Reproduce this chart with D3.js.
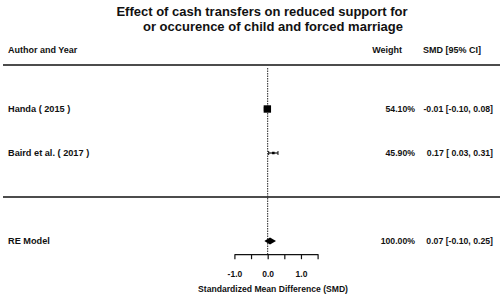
<!DOCTYPE html>
<html>
<head>
<meta charset="utf-8">
<script src="https://cdn.jsdelivr.net/npm/d3@7"></script>
<style>
  body { margin: 0; background: #fff; }
  text { font-family: "Liberation Sans", Arial, sans-serif; fill: #111; }
</style>
</head>
<body>
<svg width="502" height="301"></svg>
<script>
// study data
const studies = ["Handa ( 2015 )", "Baird et al. ( 2017 )"];
const smd = [-0.01, 0.17];
const lower = [-0.10, 0.03];
const upper = [0.08, 0.31];
const weights = [54.10, 45.90];

// pooled (random effects) result
const pooledLabel = "RE Model";
const pooled = [0.07, -0.10, 0.25];  // estimate, lower, upper
const pooledWeight = 100.00;

// axis
const tickValues = [-1.0, -0.5, 0.0, 0.5, 1.0, 1.5];
const labelledTicks = [-1.0, 0.0, 1.0];

const titleLines = ["Effect of cash transfers on reduced support for",
                    "or occurence of child and forced marriage"];

const svg = d3.select("svg"),
    width = +svg.attr("width"),
    height = +svg.attr("height");

// x scale in SMD units, y scale in "rows" like metafor
const x = d3.scaleLinear().domain([-1.0, 1.5]).range([234.4, 317.6]);
const y = d3.scaleLinear().domain([3, -1]).range([65, 241]);
const boxSize = d3.scaleLinear().domain(d3.extent(weights)).range([2.5, 7.4]);

const fmt = d3.format(".2f");
const num = v => (v < 0 ? "-" : "") + fmt(Math.abs(v));
const ciText = (e, l, u) => num(e) + " [" + (l < 0 ? "" : " ") + num(l) + ", " + num(u) + "]";

// title
svg.append("text").attr("x", 262).attr("y", 16)
    .attr("text-anchor", "middle").style("font-size", "13px").style("font-weight", "bold")
    .text(titleLines[0]);
svg.append("text").attr("x", 273).attr("y", 31)
    .attr("text-anchor", "middle").style("font-size", "13px").style("font-weight", "bold")
    .text(titleLines[1]);

// header
const head = svg.append("g").style("font-size", "9px").style("font-weight", "bold");
head.append("text").attr("x", 8).attr("y", y(3) - 12).text("Author and Year");
head.append("text").attr("x", 402).attr("y", y(3) - 12).attr("text-anchor", "end").text("Weight");
head.append("text").attr("x", 481).attr("y", y(3) - 12).attr("text-anchor", "end").text("SMD [95% CI]");

// horizontal rules
[3, 0].forEach(r => {
  svg.append("line")
      .attr("x1", 3).attr("x2", 500)
      .attr("y1", y(r)).attr("y2", y(r))
      .attr("stroke", "#111").attr("stroke-width", 1.3);
});

// reference line at 0
svg.append("line")
    .attr("x1", x(0)).attr("x2", x(0))
    .attr("y1", y(3) + 3).attr("y2", y(-1.3))
    .attr("stroke", "#222").attr("stroke-width", 1)
    .attr("stroke-dasharray", "1.5,1");

// study rows
const rows = studies.map((s, i) => ({name: s, est: smd[i], lo: lower[i], hi: upper[i], w: weights[i], row: 2 - i}));

const g = svg.append("g").style("font-size", "8.7px").style("font-weight", "bold");

g.selectAll(".ci")
  .data(rows)
  .join("line")
    .attr("x1", d => x(d.lo)).attr("x2", d => x(d.hi))
    .attr("y1", d => y(d.row)).attr("y2", d => y(d.row))
    .attr("stroke", "#111").attr("stroke-width", 1.2);

g.selectAll(".cap")
  .data(rows.flatMap(d => [{v: d.lo, row: d.row}, {v: d.hi, row: d.row}]))
  .join("line")
    .attr("x1", d => x(d.v)).attr("x2", d => x(d.v))
    .attr("y1", d => y(d.row) - 2).attr("y2", d => y(d.row) + 2)
    .attr("stroke", "#111").attr("stroke-width", 1);

g.selectAll("rect")
  .data(rows)
  .join("rect")
    .attr("x", d => x(d.est) - boxSize(d.w) / 2)
    .attr("y", d => y(d.row) - boxSize(d.w) / 2)
    .attr("width", d => boxSize(d.w))
    .attr("height", d => boxSize(d.w))
    .attr("fill", "#000");

g.selectAll(".name")
  .data(rows)
  .join("text")
    .attr("x", 8).attr("y", d => y(d.row) + 3)
    .style("font-size", "9.2px")
    .text(d => d.name);

g.selectAll(".wt")
  .data(rows)
  .join("text")
    .attr("x", 415).attr("y", d => y(d.row) + 3).attr("text-anchor", "end")
    .text(d => fmt(d.w) + "%");

g.selectAll(".smd")
  .data(rows)
  .join("text")
    .attr("x", 493).attr("y", d => y(d.row) + 3).attr("text-anchor", "end")
    .text(d => ciText(d.est, d.lo, d.hi));

// pooled diamond
const py = y(-1);
svg.append("path")
    .attr("d", `M${x(pooled[1])},${py} L${x(pooled[0])},${py - 3.5} L${x(pooled[2])},${py} L${x(pooled[0])},${py + 3.5} Z`)
    .attr("fill", "#000");

g.append("text").attr("x", 8).attr("y", py + 3).style("font-size", "9.2px").text(pooledLabel);
g.append("text").attr("x", 415).attr("y", py + 3).attr("text-anchor", "end").text(fmt(pooledWeight) + "%");
g.append("text").attr("x", 493).attr("y", py + 3).attr("text-anchor", "end").text(ciText(...pooled));

// axis
const axis = svg.append("g")
    .attr("transform", `translate(0,${y(-1.3)})`)
    .call(d3.axisBottom(x)
        .tickValues(tickValues)
        .tickSize(5)
        .tickSizeOuter(0)
        .tickFormat(d => labelledTicks.includes(d) ? num(d).replace(/(\.\d)\d$/, "$1") : ""));
axis.select(".domain").attr("stroke", "#111").attr("stroke-width", 1.2);
axis.selectAll(".tick line").attr("stroke", "#111").attr("stroke-width", 1.2);
axis.selectAll(".tick text")
    .attr("y", 17)
    .style("font-family", "Liberation Sans, Arial, sans-serif")
    .style("font-size", "8.5px").style("font-weight", "bold").attr("fill", "#111");

svg.append("text")
    .attr("x", 273).attr("y", 292)
    .attr("text-anchor", "middle")
    .style("font-size", "8.6px").style("font-weight", "bold")
    .text("Standardized Mean Difference (SMD)");
</script>
</body>
</html>
